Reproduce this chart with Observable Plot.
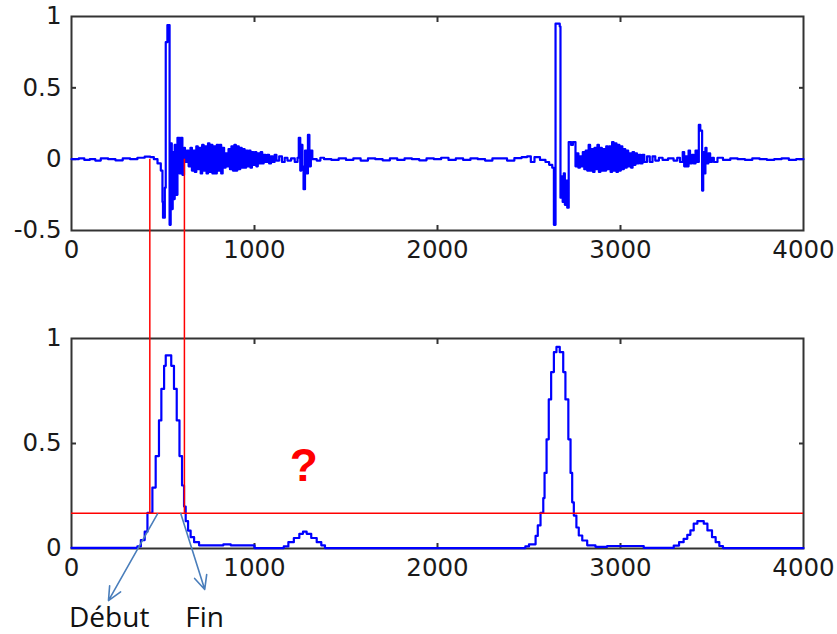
<!DOCTYPE html>
<html>
<head>
<meta charset="utf-8">
<script src="https://cdn.jsdelivr.net/npm/d3@7"></script>
<script src="https://cdn.jsdelivr.net/npm/@observablehq/plot@0.6"></script>
<style>
  html, body { margin: 0; padding: 0; background: #fff; }
  #wrap { position: relative; width: 837px; height: 634px; overflow: hidden; }
  #wrap svg { position: absolute; left: 0; overflow: visible; background: transparent; }
</style>
</head>
<body>
<div id="wrap"></div>
<script>
// ---------- data ----------
const xTicks = [0, 1000, 2000, 3000, 4000];
const innerXTicks = [1000, 2000, 3000];
const topYTicks = [-0.5, 0, 0.5, 1];
const botYTicks = [0, 0.5, 1];

// raw signal (top panel)
const sigX = [0,40,70,100,130,160,200,240,280,320,360,400,430,450,470,488,497,500,510,515,524,536,542,548,553,558,564,570,579,590,597,606,615,620,630,640,650,658,666,674,682,690,698,706,714,722,730,738,746,754,762,770,778,786,794,802,810,818,826,834,842,850,858,866,874,882,890,898,906,914,922,930,938,946,954,962,970,978,986,994,1002,1010,1018,1026,1034,1042,1050,1060,1070,1080,1090,1100,1110,1120,1135,1150,1165,1180,1200,1220,1235,1242,1250,1256,1262,1268,1276,1284,1292,1300,1308,1316,1340,1360,1380,1420,1460,1500,1540,1580,1620,1660,1700,1740,1780,1820,1860,1900,1940,1980,2020,2060,2100,2140,2180,2220,2260,2300,2340,2380,2420,2460,2490,2510,2530,2560,2590,2610,2627,2636,2645,2668,2672,2678,2684,2690,2696,2702,2709,2717,2730,2740,2754,2762,2770,2778,2786,2794,2802,2810,2818,2826,2834,2842,2850,2858,2866,2874,2882,2890,2898,2906,2914,2922,2930,2938,2946,2954,2962,2970,2978,2986,2994,3002,3010,3018,3026,3034,3042,3050,3058,3066,3074,3082,3090,3100,3110,3120,3130,3145,3160,3175,3190,3210,3230,3260,3290,3310,3325,3340,3348,3356,3364,3372,3380,3390,3400,3410,3420,3428,3436,3446,3452,3458,3464,3470,3480,3490,3500,3510,3530,3560,3600,3640,3680,3720,3760,3800,3840,3880,3920,3960,4000];
const sigY = [0,0.005,-0.005,0,-0.01,0.005,0,-0.008,0.005,0,0.01,0.018,0.015,0,-0.03,-0.08,-0.3,-0.41,-0.2,0.82,0.94,-0.46,0.11,-0.35,0.05,-0.28,0.1,-0.25,0.15,-0.1,0.15,-0.11,0.08,-0.02,0.06,-0.05,0.08,-0.08,0.06,-0.09,0.09,-0.07,0.08,-0.1,0.1,-0.08,0.09,-0.1,0.11,-0.09,0.1,-0.1,0.09,-0.1,0.1,-0.08,0.1,-0.1,0.08,-0.06,0.04,-0.05,0.07,-0.07,0.09,-0.08,0.1,-0.08,0.09,-0.07,0.08,-0.06,0.07,-0.06,0.06,-0.05,0.06,-0.06,0.05,-0.04,0.05,-0.05,0.04,-0.03,0.05,-0.03,0.03,-0.02,0.03,-0.03,0.02,-0.02,0.03,-0.01,0.02,-0.02,0.01,-0.01,0.005,-0.02,0.01,0.15,-0.08,0.1,-0.05,-0.21,0.06,-0.1,0.17,-0.05,0.06,0,-0.01,0.01,0,-0.005,0.005,-0.005,0.005,-0.01,0.005,0,-0.008,0.005,-0.005,0.005,0,-0.008,0.005,0,0.01,-0.005,0.005,-0.005,0.005,0,-0.01,0.005,0.005,-0.01,0.008,0.015,0.02,-0.02,0.015,-0.005,-0.02,-0.04,-0.06,-0.46,0.95,0.93,-0.27,-0.12,-0.3,-0.1,-0.32,-0.15,-0.34,0.12,0.1,0.12,-0.05,0.04,-0.06,0.02,-0.05,0.05,-0.07,0.06,-0.08,0.1,-0.08,0.07,-0.09,0.08,-0.07,0.1,-0.09,0.08,-0.08,0.07,-0.08,0.09,-0.07,0.09,-0.09,0.12,-0.08,0.11,-0.09,0.1,-0.08,0.09,-0.07,0.07,-0.06,0.06,-0.05,0.04,-0.06,0.05,-0.04,0.04,-0.03,0.03,-0.03,0.03,-0.02,0.02,-0.02,0.02,-0.01,0.01,-0.005,0.005,-0.01,0.01,-0.02,0.05,-0.05,0.02,-0.05,0.06,-0.03,0.03,-0.03,0.06,-0.02,0.24,0.2,-0.22,0.05,-0.1,0.08,-0.03,0.04,-0.02,0.01,-0.02,0.01,-0.005,0.005,0,-0.005,0.005,0,-0.005,0,0.005,-0.005,0,0];

// energy envelope (bottom panel), stair steps
const envX = [0,360,379,400,415,442,460,478,491,506,515,545,560,575,590,604,615,624,637,651,670,697,830,870,1000,1160,1185,1215,1245,1265,1285,1310,1340,1365,1385,2480,2500,2536,2548,2563,2578,2585,2596,2608,2621,2636,2650,2668,2687,2699,2715,2727,2736,2745,2759,2772,2791,2818,2863,2927,3127,3291,3320,3345,3365,3382,3400,3420,3455,3475,3500,3520,3540,3560,4000];
const envY = [0.003,0.01,0.04,0.08,0.17,0.29,0.44,0.61,0.76,0.87,0.92,0.87,0.76,0.61,0.44,0.30,0.20,0.13,0.085,0.054,0.03,0.015,0.02,0.015,0.002,0.01,0.03,0.05,0.07,0.08,0.07,0.05,0.03,0.015,0.002,0.01,0.02,0.06,0.11,0.17,0.24,0.36,0.52,0.71,0.84,0.935,0.96,0.935,0.84,0.71,0.52,0.36,0.22,0.157,0.10,0.062,0.038,0.015,0.008,0.012,0.003,0.014,0.03,0.046,0.065,0.086,0.118,0.13,0.118,0.086,0.054,0.03,0.012,0.002,0.002];

const threshold = 0.168;
const cutX = [428, 617];          // start / end of the detected event
const cutLevel = 0;               // where the cuts start on the top signal
const arrowLabels = ["Début", "Fin"];
const arrowFromX = [470, 597];
const arrowFromY = [0.165, 0.167];
const arrowToX = [202, 728];
const arrowToY = [-0.248, -0.195];
const labelX = [206, 727];
const labelY = [-0.33, -0.33];
const qLabel = ["?"];
const qX = [1270];
const qY = [0.39];

// ---------- build ----------
const sig = sigX.map((x, i) => ({x, y: sigY[i]}));
const env = envX.map((x, i) => ({x, y: envY[i]}));
const arrows = arrowLabels.map((t, i) => ({t, x1: arrowFromX[i], y1: arrowFromY[i], x2: arrowToX[i], y2: arrowToY[i], lx: labelX[i], ly: labelY[i]}));

const W = 837, ML = 71, MR = 34;
const TOP_H = 280, BOT_H = 354, BOT_OFF = 280;
const BOT_MT = 58, BOT_MB = 86;
const frameColor = "#333";
const blue = "#0000ff";
const fmt = d => (d < 0 ? "-" + String(-d) : String(d));
const axisStyle = {fontFamily: "DejaVu Sans", fontSize: "24.5px", color: "#1a1a1a", background: "transparent", overflow: "visible"};

function axes(yTicks) {
  const inner = yTicks.filter(d => d !== yTicks[0] && d !== yTicks[yTicks.length - 1]);
  return [
    Plot.axisX(xTicks, {anchor: "bottom", tickSize: 0, tickPadding: 10, tickFormat: fmt, label: null}),
    Plot.axisX(innerXTicks, {anchor: "bottom", tickSize: -5, tickFormat: () => "", label: null, stroke: frameColor, strokeWidth: 2}),
    Plot.axisX(innerXTicks, {anchor: "top", tickSize: -5, tickFormat: () => "", label: null, stroke: frameColor, strokeWidth: 2}),
    Plot.axisY(yTicks, {anchor: "left", tickSize: 0, tickPadding: 10, tickFormat: fmt, label: null}),
    Plot.axisY(inner, {anchor: "left", tickSize: -5, tickFormat: () => "", label: null, stroke: frameColor, strokeWidth: 2}),
    Plot.axisY(inner, {anchor: "right", tickSize: -5, tickFormat: () => "", label: null, stroke: frameColor, strokeWidth: 2}),
    Plot.frame({stroke: frameColor, strokeWidth: 2})
  ];
}

const topPlot = Plot.plot({
  width: W, height: TOP_H,
  marginLeft: ML, marginRight: MR, marginTop: 16, marginBottom: 50,
  style: axisStyle,
  x: {domain: [0, 4000]},
  y: {domain: [-0.5, 1]},
  marks: [
    ...axes(topYTicks),
    Plot.line(sig, {x: "x", y: "y", stroke: blue, strokeWidth: 2.2, curve: "step-after"})
  ]
});

// locate the top signal's cut level in the bottom panel's coordinates, via the scales
const yTopPx = topPlot.scale("y").apply(cutLevel) - BOT_OFF;
const botYScale = Plot.scale({y: {domain: [0, 1], range: [BOT_H - BOT_MB, BOT_MT]}});
const cutTop = botYScale.invert(yTopPx);

const botPlot = Plot.plot({
  width: W, height: BOT_H,
  marginLeft: ML, marginRight: MR, marginTop: BOT_MT, marginBottom: BOT_MB,
  style: axisStyle,
  x: {domain: [0, 4000]},
  y: {domain: [0, 1]},
  marks: [
    ...axes(botYTicks),
    Plot.line(env, {x: "x", y: "y", stroke: blue, strokeWidth: 2.2, curve: "step-after"}),
    Plot.ruleY([threshold], {stroke: "#ff0000", strokeWidth: 1.5}),
    Plot.ruleX(cutX, {x: d => d, y1: threshold, y2: cutTop, stroke: "#ff0000", strokeWidth: 1.5, clip: false}),
    Plot.text(qLabel, {x: qX, y: qY, text: d => d, fill: "#ff0000", fontSize: 46, fontWeight: "bold", fontFamily: "Liberation Sans", clip: false}),
    Plot.arrow(arrows, {x1: "x1", y1: "y1", x2: "x2", y2: "y2", stroke: "#4a7ebb", strokeWidth: 1.6, headLength: 14, headAngle: 50, clip: false}),
    Plot.text(arrows, {x: "lx", y: "ly", text: "t", fill: "#111", fontSize: 28, fontFamily: "Open Sans", clip: false})
  ]
});

topPlot.style.top = "0px";
botPlot.style.top = BOT_OFF + "px";
const wrap = document.getElementById("wrap");
wrap.appendChild(topPlot);
wrap.appendChild(botPlot);
</script>
</body>
</html>
